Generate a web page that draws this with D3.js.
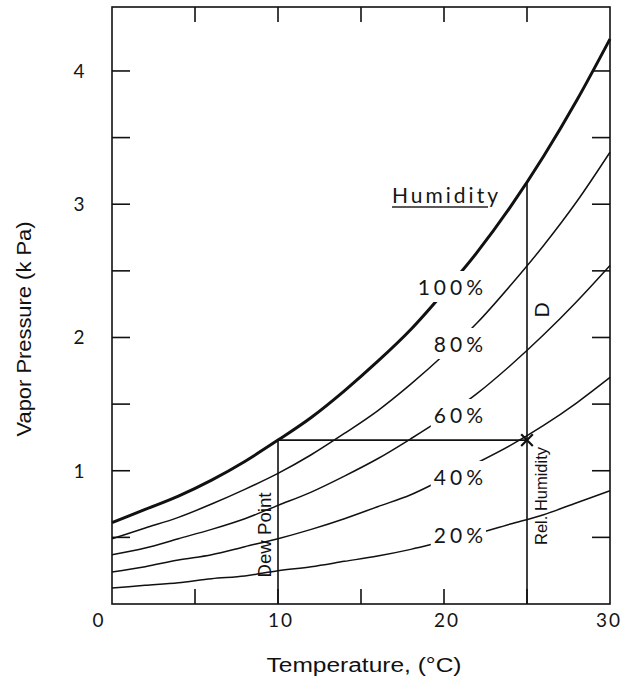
<!DOCTYPE html>
<html><head><meta charset="utf-8">
<script src="https://cdn.jsdelivr.net/npm/d3@7"></script>
<style>
body{margin:0;background:#fff;}
svg{display:block;}
.tick-lbl{font-family:"Lato","Open Sans",sans-serif;font-weight:400;font-size:19px;fill:#151515;letter-spacing:2px;}
.pct{font-family:"Lato","Open Sans",sans-serif;font-weight:400;font-size:21px;fill:#151515;letter-spacing:4px;}
.ann{font-family:"Liberation Sans",Arial,sans-serif;fill:#111;}
</style>
</head><body>
<svg id="c" width="626" height="681"></svg>
<script>
// ---- data ----
const temps = [0,2,4,6,8,10,12,14,16,18,20,22,24,26,28,30];
const rh100 = [0.61,0.71,0.81,0.93,1.07,1.23,1.40,1.60,1.82,2.06,2.34,2.64,2.98,3.36,3.78,4.24];
const rh80  = [0.49,0.57,0.65,0.75,0.86,0.98,1.12,1.28,1.45,1.65,1.87,2.11,2.39,2.69,3.02,3.39];
const rh60  = [0.37,0.42,0.49,0.56,0.64,0.74,0.84,0.96,1.09,1.24,1.40,1.58,1.79,2.02,2.27,2.54];
const rh40  = [0.24,0.28,0.33,0.37,0.43,0.49,0.56,0.64,0.73,0.82,0.94,1.06,1.19,1.34,1.51,1.70];
const rh20  = [0.12,0.14,0.16,0.19,0.21,0.25,0.28,0.32,0.36,0.41,0.47,0.53,0.60,0.67,0.76,0.85];
const seriesNames = ["100%","80%","60%","40%","20%"];
const xTickValues = [5,10,15,20,25];
const xTickLabels = [0,10,20,30];
const yTickValues = [0.5,1,1.5,2,2.5,3,3.5,4];
const yTickLabels = [1,2,3,4];
const dewPointT = 10, airT = 25, actualVP = 1.23, satVP = 3.17;

const svg = d3.select("#c");
const x = d3.scaleLinear().domain([0,30]).range([112,610]);
const y = d3.scaleLinear().domain([0,4.48]).range([604,7]);

const g = svg.append("g");
const line = d3.line().x(d=>x(d[0])).y(d=>y(d[1])).curve(d3.curveMonotoneX);
const allSeries = [rh100,rh80,rh60,rh40,rh20];

// curves
allSeries.forEach((vals,i)=>{
  g.append("path").datum(temps.map((t,j)=>[t,vals[j]]))
    .attr("d",line).attr("fill","none").attr("stroke","#111")
    .attr("stroke-width", i===0?3:1.5);
});

// dew point & D lines
g.append("line").attr("x1",x(dewPointT)).attr("x2",x(dewPointT)).attr("y1",y(0)).attr("y2",y(actualVP)).attr("stroke","#111").attr("stroke-width",1.6);
g.append("line").attr("x1",x(dewPointT)).attr("x2",x(airT)).attr("y1",y(actualVP)).attr("y2",y(actualVP)).attr("stroke","#111").attr("stroke-width",1.6);
g.append("line").attr("x1",x(airT)).attr("x2",x(airT)).attr("y1",y(0)).attr("y2",y(satVP)).attr("stroke","#111").attr("stroke-width",1.6);
g.append("path").attr("d",d3.symbol().type(d3.symbolTimes).size(90)())
  .attr("transform",`translate(${x(airT)},${y(actualVP)})`).attr("stroke","#111").attr("stroke-width",2.2).attr("fill","none");

// percentage labels with white backgrounds (gaps in curves)
const pctPos = [[483,295],[483,352],[483,423],[483,485],[483,543]];
seriesNames.forEach((n,i)=>{
  const t = g.append("text").attr("class","pct").attr("x",pctPos[i][0]+4).attr("y",pctPos[i][1])
    .attr("text-anchor","end").text(n);
  const b = t.node().getBBox();
  g.insert("rect","text.pct").attr("x",b.x-3).attr("y",b.y-3).attr("width",b.width+2).attr("height",b.height+6).attr("fill","#fff");
});
g.selectAll("text.pct").raise();

// Humidity header
g.append("text").attr("class","pct").attr("x",392).attr("y",203).style("letter-spacing","3px").text("Humidity");
g.append("line").attr("x1",392).attr("x2",488).attr("y1",207).attr("y2",207).attr("stroke","#222").attr("stroke-width",1.3);

// rotated annotations
g.append("text").attr("class","ann").attr("transform",`translate(549,310) rotate(-90)`).attr("text-anchor","middle")
  .style("font-size","21px").text("D");
g.append("text").attr("class","ann").attr("transform",`translate(547,496) rotate(-90)`).attr("text-anchor","middle")
  .style("font-size","17px").attr("textLength",98).attr("lengthAdjust","spacingAndGlyphs").text("Rel. Humidity");
g.append("text").attr("class","ann").attr("transform",`translate(271,535) rotate(-90)`).attr("text-anchor","middle")
  .style("font-size","18px").attr("textLength",85).attr("lengthAdjust","spacingAndGlyphs").text("Dew Point");

// frame
g.append("rect").attr("x",x(0)).attr("y",y(4.48)).attr("width",x(30)-x(0)).attr("height",y(0)-y(4.48))
  .attr("fill","none").attr("stroke","#111").attr("stroke-width",1.6);

// ticks
const tk = g.append("g").attr("stroke","#111").attr("stroke-width",1.6);
xTickValues.forEach(v=>{
  tk.append("line").attr("x1",x(v)).attr("x2",x(v)).attr("y1",y(0)).attr("y2",y(0)-15);
  tk.append("line").attr("x1",x(v)).attr("x2",x(v)).attr("y1",y(4.48)).attr("y2",y(4.48)+15);
});
yTickValues.forEach(v=>{
  tk.append("line").attr("x1",x(0)).attr("x2",x(0)+18).attr("y1",y(v)).attr("y2",y(v));
  tk.append("line").attr("x1",x(30)).attr("x2",x(30)-18).attr("y1",y(v)).attr("y2",y(v));
});

// tick labels
xTickLabels.forEach(v=>{
  const dx = v===0 ? -14 : (v===30 ? -2 : 2);
  g.append("text").attr("class","tick-lbl").attr("x",x(v)+dx+1).attr("y",627).attr("text-anchor","middle").text(v);
});
yTickLabels.forEach(v=>{
  g.append("text").attr("class","tick-lbl").attr("x",x(0)-32).attr("y",y(v)+7).attr("text-anchor","middle").text(v);
});

// axis titles
svg.append("text").attr("class","ann").attr("transform","translate(31,329) rotate(-90)").attr("text-anchor","middle")
  .style("font-size","21px").attr("textLength",215).attr("lengthAdjust","spacingAndGlyphs").text("Vapor Pressure (k Pa)");
svg.append("text").attr("class","ann").attr("x",364).attr("y",672).attr("text-anchor","middle")
  .style("font-size","20px").attr("textLength",195).attr("lengthAdjust","spacingAndGlyphs").text("Temperature, (°C)");
</script>
</body></html>
